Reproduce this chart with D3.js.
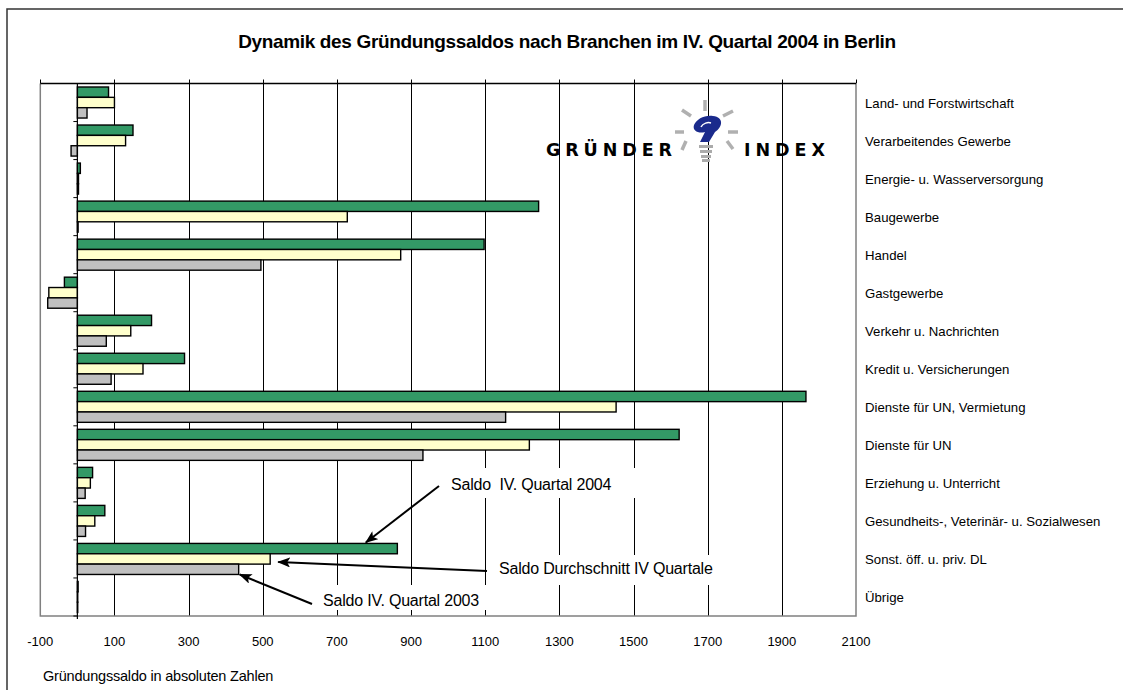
<!DOCTYPE html>
<html>
<head>
<meta charset="utf-8">
<script src="https://cdn.jsdelivr.net/npm/d3@7"></script>
<style>
body { margin: 0; background: #fff; }
text { font-family: "Liberation Sans", Arial, sans-serif; fill: #000; }
</style>
</head>
<body>
<svg id="chart" width="1123" height="690"></svg>
<script>
const categories = [
    "Land- und Forstwirtschaft", "Verarbeitendes Gewerbe", "Energie- u. Wasserversorgung",
    "Baugewerbe", "Handel", "Gastgewerbe", "Verkehr u. Nachrichten", "Kredit u. Versicherungen",
    "Dienste für UN, Vermietung", "Dienste für UN", "Erziehung u. Unterricht",
    "Gesundheits-, Veterinär- u. Sozialwesen", "Sonst. öff. u. priv. DL", "Übrige"
];
const saldo2004 = [84, 150, 8, 1244, 1097, -35, 200, 289, 1965, 1623, 41, 74, 863, 2];
const saldoAvg  = [100, 130, 3, 728, 872, -77, 144, 177, 1453, 1219, 35, 47, 520, 1];
const saldo2003 = [26, -17, 3, 2, 495, -80, 78, 91, 1155, 932, 21, 22, 435, 1];
const seriesColors = ["#339966", "#ffffcc", "#c0c0c0"];
const xTicks = [-100, 100, 300, 500, 700, 900, 1100, 1300, 1500, 1700, 1900, 2100];
const title = "Dynamik des Gründungssaldos nach Branchen im IV. Quartal 2004 in Berlin";
const axisTitle = "Gründungssaldo in absoluten Zahlen";

const plot = {left: 40.3, right: 856, top: 83.5, bottom: 616};
const svg = d3.select('#chart');

// outer frame
svg.append('rect')
    .attr('x', 7).attr('y', 9).attr('width', 1140).attr('height', 700)
    .attr('fill', 'none').attr('stroke', '#333').attr('stroke-width', 1.5);

const x = d3.scaleLinear().domain([-100, 2100]).range([plot.left, plot.right]);
const y = d3.scaleBand().domain(categories).range([plot.top, plot.bottom]);
const ys = d3.scaleBand().domain([0, 1, 2]).range([3.5, y.bandwidth() - 3.5]);

// grid lines
svg.append('g')
    .selectAll('line')
    .data(xTicks)
    .join('line')
    .attr('x1', d => Math.round(x(d)) + 0.5)
    .attr('x2', d => Math.round(x(d)) + 0.5)
    .attr('y1', plot.top - 4)
    .attr('y2', d => (d === -100 || d === 2100) ? plot.top : plot.bottom)
    .attr('stroke', '#000')
    .attr('stroke-width', 1);

// plot border
svg.append('path')
    .attr('d', `M${plot.left},${plot.top}V${plot.bottom}H${plot.right}V${plot.top}`)
    .attr('fill', 'none').attr('stroke', '#808080').attr('stroke-width', 1.5);
svg.append('line')
    .attr('x1', plot.left).attr('x2', plot.right)
    .attr('y1', plot.top).attr('y2', plot.top)
    .attr('stroke', '#000').attr('stroke-width', 1.3);

// annotation boxes (white fill hides the grid)
const annoBoxes = [
    {x: 445, y: 468, w: 215, h: 30},
    {x: 490, y: 555, w: 240, h: 30},
    {x: 316, y: 585, w: 174, h: 25}
];
svg.append('g').selectAll('rect').data(annoBoxes).join('rect')
    .attr('x', d => d.x).attr('y', d => d.y).attr('width', d => d.w).attr('height', d => d.h)
    .attr('fill', '#fff');

// bars
const series = [saldo2004, saldoAvg, saldo2003];
series.forEach((values, si) => {
    svg.append('g')
        .selectAll('rect')
        .data(values)
        .join('rect')
        .attr('x', d => x(Math.min(0, d)))
        .attr('width', d => Math.abs(x(d) - x(0)))
        .attr('y', (d, i) => y(categories[i]) + ys(si))
        .attr('height', ys.bandwidth())
        .attr('fill', seriesColors[si])
        .attr('stroke', '#000')
        .attr('stroke-width', 1.4);
});

// category axis at zero
const x0 = x(0);
svg.append('line')
    .attr('x1', x0).attr('x2', x0)
    .attr('y1', plot.top).attr('y2', plot.bottom + 3)
    .attr('stroke', '#000').attr('stroke-width', 1.2);
svg.append('g').selectAll('line')
    .data(d3.range(categories.length + 1))
    .join('line')
    .attr('x1', x0 - 4).attr('x2', x0)
    .attr('y1', i => plot.top + i * y.step())
    .attr('y2', i => plot.top + i * y.step())
    .attr('stroke', '#000').attr('stroke-width', 1);

// category labels
svg.append('g').selectAll('text')
    .data(categories)
    .join('text')
    .attr('x', 865)
    .attr('y', d => y(d) + y.bandwidth() / 2 + 5)
    .attr('font-size', 13.2)
    .text(d => d);

// x tick labels
svg.append('g').selectAll('text')
    .data(xTicks)
    .join('text')
    .attr('x', d => x(d))
    .attr('y', 646)
    .attr('text-anchor', 'middle')
    .attr('font-size', 13)
    .text(d => d);

svg.append('text')
    .attr('x', 43).attr('y', 681)
    .attr('font-size', 14.5)
    .attr('letter-spacing', -0.2)
    .text(axisTitle);

svg.append('text')
    .attr('x', 567).attr('y', 48)
    .attr('text-anchor', 'middle')
    .attr('font-size', 19)
    .attr('font-weight', 'bold')
    .attr('letter-spacing', -0.35)
    .text(title);

// arrows + annotation texts
svg.append('defs').append('marker')
    .attr('id', 'arrow')
    .attr('markerUnits', 'userSpaceOnUse')
    .attr('markerWidth', 13).attr('markerHeight', 10)
    .attr('refX', 12).attr('refY', 5)
    .attr('orient', 'auto')
    .append('path')
    .attr('d', 'M0,0L13,5L0,10L3,5Z')
    .attr('fill', '#000');

const iS = categories.length - 2;
const bandTop = y(categories[iS]);
const arrows = [
    {from: [439, 486], to: [x(778), bandTop + ys(0) - 1]},
    {from: [487, 571], to: [x(saldoAvg[iS]) + 8, bandTop + ys(1) + ys.bandwidth() / 2 + 3]},
    {from: [312, 604], to: [x(saldo2003[iS]) + 1, bandTop + ys(2) + ys.bandwidth()]}
];
svg.append('g').selectAll('line').data(arrows).join('line')
    .attr('x1', d => d.from[0]).attr('y1', d => d.from[1])
    .attr('x2', d => d.to[0]).attr('y2', d => d.to[1])
    .attr('stroke', '#000').attr('stroke-width', 2)
    .attr('marker-end', 'url(#arrow)');

const annoTexts = [
    {text: "Saldo\u00a0 IV. Quartal 2004", x: 451, y: 490},
    {text: "Saldo Durchschnitt IV Quartale", x: 499, y: 574},
    {text: "Saldo IV. Quartal 2003", x: 323, y: 606}
];
svg.append('g').selectAll('text').data(annoTexts).join('text')
    .attr('x', d => d.x).attr('y', d => d.y)
    .attr('font-size', 16)
    .attr('letter-spacing', -0.2)
    .text(d => d.text);

// logo
const logo = svg.append('g');
logo.append('text').attr('x', 546).attr('y', 156)
    .attr('font-size', 17.5).attr('font-weight', 'bold')
    .attr('textLength', 126).attr('lengthAdjust', 'spacing')
    .style('font-family', '"DejaVu Sans", sans-serif')
    .text('GRÜNDER');
logo.append('text').attr('x', 744).attr('y', 156)
    .attr('font-size', 17.5).attr('font-weight', 'bold')
    .attr('textLength', 81).attr('lengthAdjust', 'spacing')
    .style('font-family', '"DejaVu Sans", sans-serif')
    .text('INDEX');
const rays = [
    [705, 100, 705, 111], [682, 110, 691, 116], [723, 116, 733, 111],
    [675, 132, 684, 132], [728, 132, 738, 132], [686, 141, 682, 150], [727, 141, 733, 149]
];
logo.append('g').selectAll('line').data(rays).join('line')
    .attr('x1', d => d[0]).attr('y1', d => d[1]).attr('x2', d => d[2]).attr('y2', d => d[3])
    .attr('stroke', '#b0b0b0').attr('stroke-width', 3.5);
logo.append('g').selectAll('rect').data([145, 150, 155, 159]).join('rect')
    .attr('x', (d, i) => 699 + i).attr('y', d => d)
    .attr('width', (d, i) => 14 - 2 * i).attr('height', 3)
    .attr('fill', '#aaa');
logo.append('path')
    .attr('d', 'M713,116 C724,117 723,127 715,132 L709,142 L700,142 L705,132 C699,134 692,131 694,125 C697,119 704,115 713,116 Z')
    .attr('fill', '#1a2a8c');
logo.append('path')
    .attr('d', 'M701,127 C703,123 708,122 711,123')
    .attr('stroke', '#fff').attr('stroke-width', 1.5).attr('fill', 'none');
</script>
</body>
</html>
